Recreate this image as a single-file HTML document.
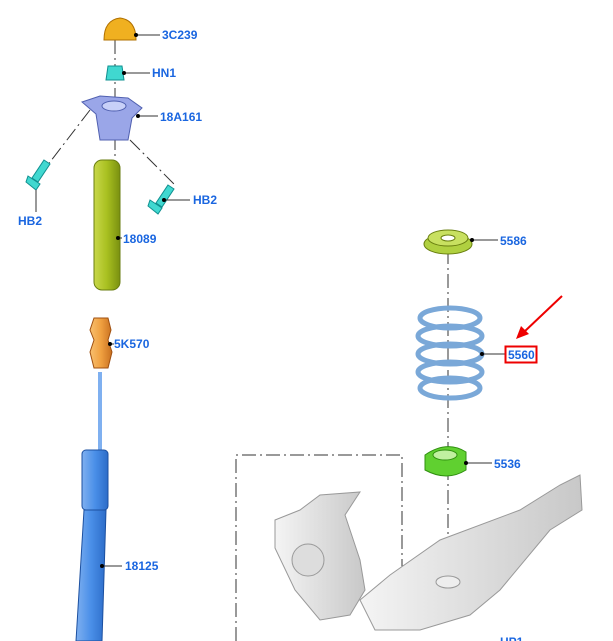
<!DOCTYPE html>
<html><head><style>
html,body{margin:0;padding:0;background:#fff;width:613px;height:641px;overflow:hidden}
svg text{font-family:"Liberation Sans",sans-serif;font-weight:bold;font-size:12px;fill:#1a66e0}
</style></head><body>
<svg width="613" height="641" viewBox="0 0 613 641" xmlns="http://www.w3.org/2000/svg">
<defs>
<linearGradient id="gy" x1="0" x2="1"><stop offset="0" stop-color="#c9d84a"/><stop offset="0.5" stop-color="#a8c020"/><stop offset="1" stop-color="#7a9010"/></linearGradient>
<linearGradient id="bl" x1="0" x2="1"><stop offset="0" stop-color="#7fb0f0"/><stop offset="0.5" stop-color="#4a8fe8"/><stop offset="1" stop-color="#2c6cc8"/></linearGradient>
<linearGradient id="or" x1="0" x2="1"><stop offset="0" stop-color="#f8c070"/><stop offset="0.5" stop-color="#f0a040"/><stop offset="1" stop-color="#c87020"/></linearGradient>
<linearGradient id="gr" x1="0" x2="1"><stop offset="0" stop-color="#f4f4f4"/><stop offset="1" stop-color="#c8c8c8"/></linearGradient>
</defs>
<g stroke="#333" stroke-width="1" fill="none" stroke-dasharray="14,4,2,4">
<line x1="115" y1="40" x2="115" y2="160"/>
<line x1="90" y1="110" x2="40" y2="175"/>
<line x1="130" y1="140" x2="175" y2="185"/>
<line x1="448" y1="250" x2="448" y2="590"/>
<polyline points="236,641 236,455 402,455 402,605"/>
</g>
<path d="M104,40 Q104,20 120,18 Q136,20 136,40 Z" fill="#f0b020" stroke="#b07000"/>
<path d="M108,66 L122,66 L124,80 L106,80 Z" fill="#40d8d0" stroke="#109090"/>
<path d="M82,102 L100,96 L128,98 L142,108 L132,118 L128,140 L100,140 L96,114 Z" fill="#9aa6e8" stroke="#5060b0"/>
<ellipse cx="114" cy="106" rx="12" ry="5" fill="#c8d0f8" stroke="#5060b0"/>
<path d="M44,160 L50,164 L38,182 L32,178 Z M28,176 L40,184 L36,190 L26,182Z" fill="#40d8d0" stroke="#109090"/>
<path d="M168,185 L174,189 L162,207 L156,203 Z M150,200 L162,208 L158,214 L148,206Z" fill="#40d8d0" stroke="#109090"/>
<rect x="94" y="160" width="26" height="130" rx="8" fill="url(#gy)" stroke="#6a7e10"/>
<path d="M94,318 L108,318 L111,330 L108,340 L112,352 L108,368 L94,368 L90,352 L94,340 L90,330 Z" fill="url(#or)" stroke="#a05010"/>
<rect x="98" y="372" width="4" height="80" fill="#7fb0f0"/>
<rect x="82" y="450" width="26" height="60" rx="4" fill="url(#bl)" stroke="#1c50a0"/>
<path d="M84,510 L106,510 L102,641 L76,641 Z" fill="url(#bl)" stroke="#1c50a0"/>
<ellipse cx="448" cy="244" rx="24" ry="10" fill="#b0d040" stroke="#6a8010"/>
<ellipse cx="448" cy="238" rx="20" ry="8" fill="#c8e060" stroke="#6a8010"/>
<ellipse cx="448" cy="238" rx="7" ry="3" fill="#fff" stroke="#6a8010"/>
<g fill="none" stroke="#7aa8d8" stroke-width="5">
<ellipse cx="450" cy="318" rx="30" ry="10"/><ellipse cx="450" cy="336" rx="32" ry="10"/><ellipse cx="450" cy="354" rx="32" ry="10"/><ellipse cx="450" cy="372" rx="32" ry="10"/><ellipse cx="450" cy="388" rx="30" ry="10"/>
</g>
<path d="M425,455 Q447,440 466,452 L466,470 Q447,482 425,470 Z" fill="#60d030" stroke="#309010"/>
<ellipse cx="445" cy="455" rx="12" ry="5" fill="#c0f0a0" stroke="#309010"/>
<path d="M275,520 L300,510 L320,495 L360,492 L345,515 L360,560 L365,590 L350,615 L320,620 L295,590 L275,548 Z" fill="url(#gr)" stroke="#999"/>
<circle cx="308" cy="560" r="16" fill="#ddd" stroke="#999"/>
<path d="M360,600 L390,575 L440,540 L520,510 L560,485 L580,475 L582,510 L550,530 L500,590 L470,615 L420,630 L375,630 Z" fill="url(#gr)" stroke="#999"/>
<ellipse cx="448" cy="582" rx="12" ry="6" fill="#eee" stroke="#999"/>
<g stroke="#333" stroke-width="1">
<line x1="136" y1="35" x2="160" y2="35"/><line x1="124" y1="73" x2="150" y2="73"/>
<line x1="138" y1="116" x2="158" y2="116"/><line x1="36" y1="190" x2="36" y2="212"/>
<line x1="164" y1="200" x2="190" y2="200"/><line x1="118" y1="238" x2="122" y2="238"/>
<line x1="110" y1="344" x2="114" y2="344"/><line x1="102" y1="566" x2="122" y2="566"/>
<line x1="472" y1="240" x2="498" y2="240"/><line x1="482" y1="354" x2="505" y2="354"/>
<line x1="466" y1="463" x2="492" y2="463"/>
</g>
<g fill="#000"><circle cx="136" cy="35" r="2"/><circle cx="124" cy="73" r="2"/><circle cx="138" cy="116" r="2"/><circle cx="118" cy="238" r="2"/><circle cx="110" cy="344" r="2"/><circle cx="102" cy="566" r="2"/><circle cx="472" cy="240" r="2"/><circle cx="482" cy="354" r="2"/><circle cx="466" cy="463" r="2"/><circle cx="164" cy="200" r="2"/></g>
<text x="162" y="39">3C239</text>
<text x="152" y="77">HN1</text>
<text x="160" y="121">18A161</text>
<text x="18" y="225">HB2</text>
<text x="193" y="204">HB2</text>
<text x="123" y="243">18089</text>
<text x="114" y="348">5K570</text>
<text x="125" y="570">18125</text>
<text x="500" y="245">5586</text>
<rect x="505.5" y="346.5" width="31" height="16" fill="none" stroke="#e00" stroke-width="2"/>
<text x="508" y="359">5560</text>
<text x="494" y="468">5536</text>
<text x="500" y="646">HP1</text>
<line x1="562" y1="296" x2="524" y2="332" stroke="#e00" stroke-width="2"/>
<path d="M516,339 L521,326 L529,334 Z" fill="#e00"/>
</svg>
</body></html>
